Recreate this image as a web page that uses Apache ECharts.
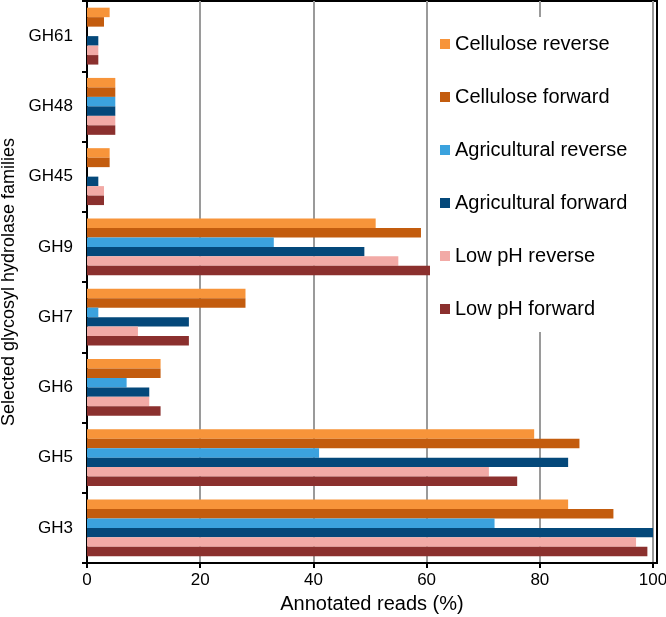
<!DOCTYPE html>
<html>
<head>
<meta charset="utf-8">
<script src="https://cdn.jsdelivr.net/npm/echarts@6/dist/echarts.min.js"></script>
<style>html,body{margin:0;padding:0;background:#fff}#c{width:666px;height:617px}</style>
</head>
<body>
<div id="c"></div>
<script>
const categories = ['GH3','GH5','GH6','GH7','GH9','GH45','GH48','GH61'];
const seriesNames = ['Cellulose reverse','Cellulose forward','Agricultural reverse','Agricultural forward','Low pH reverse','Low pH forward'];
const celluloseReverse   = [85, 79, 13, 28, 51, 4, 5, 4];
const celluloseForward   = [93, 87, 13, 28, 59, 4, 5, 3];
const agriculturalReverse= [72, 41, 7, 2, 33, 0, 5, 0];
const agriculturalForward= [100, 85, 11, 18, 49, 2, 5, 2];
const lowPhReverse       = [97, 71, 11, 9, 55, 3, 5, 2];
const lowPhForward       = [99, 76, 13, 18, 61, 3, 5, 2];
const xTicks = [0, 20, 40, 60, 80, 100];

const values = [celluloseReverse, celluloseForward, agriculturalReverse, agriculturalForward, lowPhReverse, lowPhForward];
const colors = ['#F7943A', '#C35C0E', '#3BA2DE', '#04487A', '#F2AAA6', '#8B302E'];
const font = 'Liberation Sans, Arial, sans-serif';

const chart = echarts.init(document.getElementById('c'), null, {renderer: 'canvas'});
chart.setOption({
  animation: false,
  textStyle: {fontFamily: font, color: '#000'},
  grid: {left: 87, right: 9, top: 1, bottom: 54, show: true, borderColor: '#000', borderWidth: 2,
    containLabel: false, outerBoundsMode: 'none'},
  legend: {
    orient: 'vertical', left: 430, top: 17,
    padding: [17, 10, 13, 10],
    backgroundColor: '#fff',
    itemWidth: 10, itemHeight: 10, itemGap: 33,
    icon: 'rect',
    textStyle: {fontSize: 20, color: '#000', fontFamily: font},
    data: seriesNames
  },
  xAxis: {
    type: 'value', min: 0, max: 100.7, interval: 20,
    name: 'Annotated reads (%)', nameLocation: 'middle', nameGap: 31,
    nameTextStyle: {fontSize: 20, color: '#000', fontFamily: font},
    axisLine: {show: true, lineStyle: {color: '#000', width: 2}},
    axisTick: {show: true, length: 5, lineStyle: {color: '#000', width: 2},
      customValues: xTicks},
    axisLabel: {fontSize: 17, color: '#000', margin: 9, fontFamily: font,
      customValues: xTicks},
    splitLine: {show: true, lineStyle: {color: '#9a9a9a', width: 2}}
  },
  yAxis: {
    type: 'category', data: categories,
    name: 'Selected glycosyl hydrolase families', nameLocation: 'middle', nameGap: 65,
    nameTextStyle: {fontSize: 18, color: '#000', fontFamily: font},
    axisLine: {show: true, lineStyle: {color: '#000', width: 2}},
    axisTick: {show: true, length: 5, lineStyle: {color: '#000', width: 2}},
    axisLabel: {fontSize: 17, color: '#000', margin: 14, fontFamily: font},
    splitLine: {show: false}
  },
  series: seriesNames.map((n, i) => ({
    name: n, type: 'bar', data: values[i],
    itemStyle: {color: colors[i]},
    barGap: '0%', barCategoryGap: '19%'
  }))
});
</script>
</body>
</html>
